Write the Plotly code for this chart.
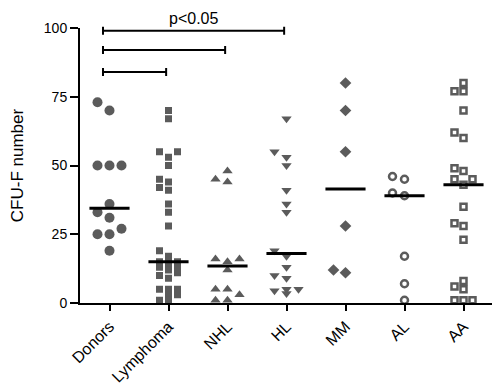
import plotly.graph_objects as go

# ---------------- data ----------------
categories = ["Donors", "Lymphoma", "NHL", "HL", "MM", "AL", "AA"]
donors = [73, 70, 50, 50, 50, 36, 33, 31, 27, 25, 25, 19]
lymphoma = [70, 67, 55, 55, 53, 50, 45, 44, 42, 41, 36, 33, 28, 19, 17, 15, 15, 15,
            14, 13, 13, 12, 11, 10, 9, 5, 5, 5, 3, 3, 1, 1]
nhl = [48, 45, 44, 16, 16, 15, 12, 5, 5, 3, 1, 1]
hl = [67, 55, 53, 50, 41, 36, 33, 19, 17, 13, 10, 9, 5, 5, 4.5, 3.5]
mm = [80, 70, 55, 28, 12, 11]
al = [46, 45, 40, 39, 17, 7, 1]
aa = [80, 77, 77, 70, 62, 60, 49, 48, 45, 45, 43, 35, 29, 28, 23, 8, 6, 5, 1, 1, 1]
y_tick_values = [0, 25, 50, 75, 100]
comparisons = [("Donors", "Lymphoma"), ("Donors", "NHL"), ("Donors", "HL")]
sig_label = "p<0.05"
y_title = "CFU-F number"

series = [donors, lymphoma, nhl, hl, mm, al, aa]

# ---------------- layout constants ----------------
# the page body adds an 8px margin, so the figure is 8px smaller on each side
W, H = 492, 378
ML, MR, MT, MB = 72, 7, 20, 83
X_RANGE = [-0.5, 6.5]
Y_RANGE = [0, 100]
px_per_x = (W - ML - MR) / (X_RANGE[1] - X_RANGE[0])
px_per_y = (H - MT - MB) / (Y_RANGE[1] - Y_RANGE[0])

GRAY = "#5b5b5b"
styles = [
    dict(symbol="circle", size=10, step=12, h=10),
    dict(symbol="square", size=7, step=9, h=7),
    dict(symbol="triangle-up", size=9, step=12, h=8),
    dict(symbol="triangle-down", size=9, step=12, h=8),
    dict(symbol="diamond", size=9, step=12, h=11),
    dict(symbol="circle-open", size=7, step=12, h=9),
    dict(symbol="square-open", size=6, step=9, h=8),
]


def swarm_offsets(values, step_px, height_px):
    """Column-scatter layout in three columns: place points (ascending) in the
    central column if free, else a free side column, else the least crowded one."""
    thr = height_px / px_per_y
    order = sorted(range(len(values)), key=lambda i: values[i])
    placed = {}
    offs = [0.0] * len(values)
    slots = [0, -1, 1]
    for i in order:
        v = values[i]
        best, best_d = None, -1
        for k in slots:
            d = min([abs(v - u) for u in placed.get(k, [])] or [1e9])
            if d >= thr:
                best = k
                break
            if d > best_d:
                best, best_d = k, d
        placed.setdefault(best, []).append(v)
        offs[i] = best * step_px / px_per_x
    return offs


def median(vals):
    s = sorted(vals)
    n = len(s)
    return s[n // 2] if n % 2 else (s[n // 2 - 1] + s[n // 2]) / 2


fig = go.Figure()
shapes = []
for idx, (vals, st) in enumerate(zip(series, styles)):
    offs = swarm_offsets(vals, st["step"], st["h"])
    marker = dict(symbol=st["symbol"], size=st["size"], color=GRAY)
    if st["symbol"].endswith("open"):
        marker["line"] = dict(width=2.5, color=GRAY)
    else:
        marker["line"] = dict(width=0)
    fig.add_trace(go.Scatter(
        x=[idx + o for o in offs], y=vals, mode="markers",
        marker=marker, cliponaxis=False, showlegend=False,
        name=categories[idx]))
    m = median(vals)
    shapes.append(dict(type="line", xref="x", yref="y",
                       x0=idx - 0.34, x1=idx + 0.34, y0=m, y1=m,
                       line=dict(color="black", width=3), layer="above"))

# significance brackets
levels = [84, 92, 99]
tick_h = 4 / (H - MT - MB)
for (a, b), lv in zip(comparisons, levels):
    xa = categories.index(a) - 0.11
    xb = categories.index(b) - 0.04
    yp = lv / Y_RANGE[1]
    shapes.append(dict(type="line", xref="x", yref="paper", x0=xa, x1=xb, y0=yp, y1=yp,
                       line=dict(color="black", width=2)))
    for xx in (xa, xb):
        shapes.append(dict(type="line", xref="x", yref="paper", x0=xx, x1=xx,
                           y0=yp - tick_h, y1=yp + tick_h,
                           line=dict(color="black", width=2)))

top_a, top_b = comparisons[-1]
fig.add_annotation(x=(categories.index(top_a) - 0.11 + categories.index(top_b) - 0.04) / 2,
                   y=1.034, xref="x", yref="paper", yanchor="middle", xanchor="center",
                   text=sig_label, showarrow=False,
                   font=dict(size=16, color="black", family="Arial"))

fig.update_layout(
    width=W, height=H,
    margin=dict(l=ML, r=MR, t=MT, b=MB, autoexpand=False),
    paper_bgcolor="white", plot_bgcolor="white",
    font=dict(family="Arial", color="black"),
    shapes=shapes,
    xaxis=dict(range=X_RANGE, tickmode="array", tickvals=list(range(len(categories))),
               ticktext=categories, tickangle=-45, showgrid=False, zeroline=False,
               showline=True, linecolor="black", linewidth=2, automargin=False,
               ticks="outside", ticklen=6, tickwidth=2, tickcolor="black",
               tickfont=dict(size=16, color="black")),
    yaxis=dict(range=Y_RANGE, tickmode="array", tickvals=y_tick_values,
               showgrid=False, zeroline=False, automargin=False,
               showline=True, linecolor="black", linewidth=2,
               ticks="outside", ticklen=8, tickwidth=2, tickcolor="black",
               tickfont=dict(size=14, color="black"),
               title=dict(text=y_title, font=dict(size=17, color="black"), standoff=18)),
)

fig.write_html("out.html")
